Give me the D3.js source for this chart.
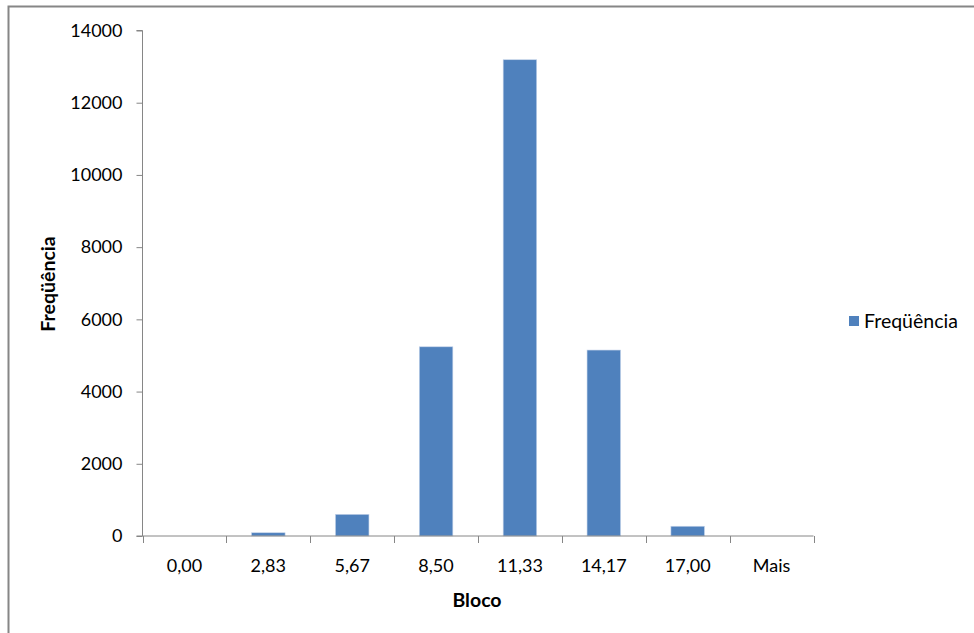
<!DOCTYPE html>
<html>
<head>
<meta charset="utf-8">
<script src="https://cdn.jsdelivr.net/npm/d3@7"></script>
<style>
  html, body { margin: 0; padding: 0; background: #fff; }
  svg { display: block; font-family: Lato, "Open Sans", sans-serif; }
</style>
</head>
<body>
<svg id="chart" width="974" height="633"></svg>
<script>
// Histogram bins (upper bin edges) and counts
const categories = ["0,00", "2,83", "5,67", "8,50", "11,33", "14,17", "17,00", "Mais"];
const frequencies = [0, 90, 600, 5240, 13190, 5150, 270, 0];
const yTicks = [0, 2000, 4000, 6000, 8000, 10000, 12000, 14000];
const seriesName = "Freqüência";

const svg = d3.select("#chart");
const color = "#4F81BD";
const axisColor = "#868686";
const numSize = 18;
const wordSize = 19.5;

// outer chart frame
svg.append("rect")
  .attr("x", 8.5).attr("y", 6.5)
  .attr("width", 1000).attr("height", 700)
  .attr("fill", "none").attr("stroke", axisColor).attr("stroke-width", 2);

const plot = { left: 142.5, right: 813.5, top: 30.5, bottom: 536 };

const xCat = d3.scaleBand().domain(categories).range([plot.left, plot.right]);
const y = d3.scaleLinear().domain([0, 14000]).range([plot.bottom, plot.top]);

// bars (gap width 150%: bar takes 40% of each category slot)
svg.append("g").selectAll("rect")
  .data(categories.map((c, i) => ({ c, v: frequencies[i] })))
  .join("rect")
  .attr("x", d => xCat(d.c) + xCat.bandwidth() * 0.3)
  .attr("width", xCat.bandwidth() * 0.4)
  .attr("y", d => y(d.v))
  .attr("height", d => y(0) - y(d.v))
  .attr("fill", color)
  .attr("stroke", "#c6d4ea").attr("stroke-width", 0.6);

// y axis
const yAxis = d3.axisLeft(y).tickValues(yTicks).tickSize(6).tickPadding(14).tickFormat(d3.format("d"));
const gy = svg.append("g").attr("transform", `translate(${plot.left},0)`).call(yAxis);
gy.select(".domain").attr("stroke", axisColor).attr("d", `M-6,${plot.top}H0V${plot.bottom}H-6`);
gy.selectAll(".tick line").attr("stroke", axisColor);
gy.selectAll(".tick text").attr("font-size", numSize).attr("fill", "#000").attr("font-family", "Lato, sans-serif");

// x axis: ticks at category boundaries
const boundaries = categories.map(c => xCat(c)).concat([plot.right]);
const gx = svg.append("g");
gx.append("line")
  .attr("x1", plot.left).attr("x2", plot.right)
  .attr("y1", plot.bottom).attr("y2", plot.bottom)
  .attr("stroke", axisColor).attr("stroke-width", 1);
gx.selectAll("line.tk").data(boundaries).join("line")
  .attr("class", "tk")
  .attr("x1", d => Math.round(d) + 0.5).attr("x2", d => Math.round(d) + 0.5)
  .attr("y1", plot.bottom).attr("y2", plot.bottom + 7)
  .attr("stroke", axisColor);
gx.selectAll("text").data(categories).join("text")
  .attr("x", d => xCat(d) + xCat.bandwidth() / 2)
  .attr("y", 572)
  .attr("text-anchor", "middle")
  .attr("font-size", numSize)
  .attr("fill", "#000")
  .text(d => d);

// axis titles
svg.append("text")
  .attr("x", 477).attr("y", 607)
  .attr("text-anchor", "middle")
  .attr("font-size", wordSize).attr("font-weight", "bold")
  .text("Bloco");

svg.append("text")
  .attr("transform", "translate(55,284) rotate(-90)")
  .attr("text-anchor", "middle")
  .attr("font-size", wordSize).attr("font-weight", "bold")
  .text(seriesName);

// legend
const lg = svg.append("g").attr("transform", "translate(849,316)");
lg.append("rect").attr("width", 10).attr("height", 10).attr("fill", color);
lg.append("text").attr("x", 15).attr("y", 12).attr("font-size", wordSize).attr("fill", "#000").text(seriesName);
</script>
</body>
</html>
